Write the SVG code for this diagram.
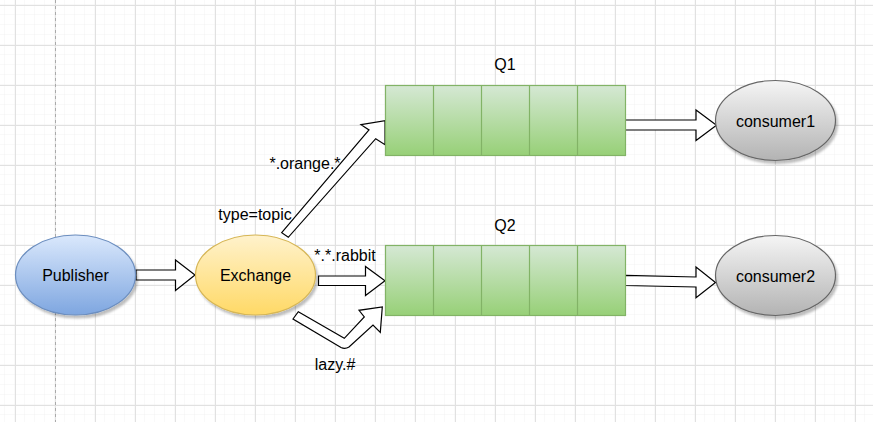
<svg xmlns="http://www.w3.org/2000/svg" width="873" height="422" viewBox="0 0 873 422">
  <defs>
    <pattern id="minor" x="5" y="5" width="10" height="10" patternUnits="userSpaceOnUse">
      <path d="M10 0 V10 M0 10 H10" fill="none" stroke="#f2f2f2" stroke-width="1"/>
    </pattern>
    <pattern id="major" x="15" y="5" width="40" height="40" patternUnits="userSpaceOnUse">
      <path d="M0.5 0 V40 M0 0.5 H40" fill="none" stroke="#e1e1e1" stroke-width="1"/>
    </pattern>
    <linearGradient id="gBlue" x1="0" y1="0" x2="0" y2="1">
      <stop offset="0" stop-color="#dae8fc"/>
      <stop offset="1" stop-color="#7ea6e0"/>
    </linearGradient>
    <linearGradient id="gYellow" x1="0" y1="0" x2="0" y2="1">
      <stop offset="0" stop-color="#fff2cc"/>
      <stop offset="1" stop-color="#ffd966"/>
    </linearGradient>
    <linearGradient id="gGray" x1="0" y1="0" x2="0" y2="1">
      <stop offset="0" stop-color="#f5f5f5"/>
      <stop offset="1" stop-color="#b3b3b3"/>
    </linearGradient>
    <linearGradient id="gGreen" x1="0" y1="0" x2="0" y2="1">
      <stop offset="0" stop-color="#d5e8d4"/>
      <stop offset="1" stop-color="#97d077"/>
    </linearGradient>
    <filter id="shadow" x="-20%" y="-20%" width="150%" height="150%">
      <feDropShadow dx="2" dy="3" stdDeviation="1.2" flood-color="#000" flood-opacity="0.25"/>
    </filter>
  </defs>
  <style>
    text { font-family: "Liberation Sans", Arial, Helvetica, sans-serif; font-size: 16px; fill: #000; }
    .c { text-anchor: middle; }
    .arrow { fill: #ffffff; stroke: #000000; stroke-width: 1.2; stroke-linejoin: miter; }
    .q { fill: url(#gGreen); stroke: #82b366; stroke-width: 1.2; }
    .div { stroke: #82b366; stroke-width: 1.2; }
  </style>

  <rect width="873" height="422" fill="#ffffff"/>
  <rect width="873" height="422" fill="url(#minor)"/>
  <rect width="873" height="422" fill="url(#major)"/>
  <line x1="55.5" y1="0" x2="55.5" y2="422" stroke="#aaaaaa" stroke-width="1" stroke-dasharray="3,3"/>

  <g id="connectors">
    <polygon class="arrow" points="136,270 175.5,270 175.5,260 195,275 175.5,290.5 175.5,280 136,280"/>
    <polygon class="arrow" points="318.5,276 365.5,276 365.5,266.5 385,280.7 365.5,295.5 365.5,285.5 318.5,285.5"/>
    <polygon class="arrow" points="281.7,232.7 369,130 361,124.7 385,120.7 385,144.7 375.7,138.7 288.3,237.3"/>
    <path class="arrow" stroke-linejoin="round" d="M298.3,311.7 L344.3,338.3 L364.3,317 L359,310.3 L382.3,307 L380.3,332.3 L373,325 L349,347 Q345,349.5 341,347.5 L293,319 Z"/>
    <polygon class="arrow" points="625,120 696,120 696,110 716.5,125.3 696,140.5 696,130 625,130"/>
    <polygon class="arrow" points="625,275.3 696,277 696,267 715.5,282.5 696,297.7 696,287 625,285.5"/>
    <text x="305" y="169" class="c">*.orange.*</text>
    <text x="255" y="220" class="c">type=topic</text>
    <text x="345" y="261" class="c">*.*.rabbit</text>
    <text x="335" y="370" class="c">lazy.#</text>
  </g>

  <g id="publisher">
    <ellipse cx="75.5" cy="275" rx="60" ry="40" fill="url(#gBlue)" stroke="#6c8ebf" stroke-width="1.2" filter="url(#shadow)"/>
    <text x="75.5" y="281" class="c">Publisher</text>
  </g>

  <g id="exchange">
    <ellipse cx="255.5" cy="275" rx="60" ry="40" fill="url(#gYellow)" stroke="#d6b656" stroke-width="1.2" filter="url(#shadow)"/>
    <text x="255.5" y="281" class="c">Exchange</text>
  </g>

  <g id="q1">
    <text x="505" y="70" class="c">Q1</text>
    <rect class="q" x="385.5" y="85.5" width="240" height="70"/>
    <line class="div" x1="433.5" y1="85.5" x2="433.5" y2="155.5"/>
    <line class="div" x1="481.5" y1="85.5" x2="481.5" y2="155.5"/>
    <line class="div" x1="529.5" y1="85.5" x2="529.5" y2="155.5"/>
    <line class="div" x1="577.5" y1="85.5" x2="577.5" y2="155.5"/>
  </g>

  <g id="q2">
    <text x="505" y="231" class="c">Q2</text>
    <rect class="q" x="385.5" y="245.5" width="240" height="70"/>
    <line class="div" x1="433.5" y1="245.5" x2="433.5" y2="315.5"/>
    <line class="div" x1="481.5" y1="245.5" x2="481.5" y2="315.5"/>
    <line class="div" x1="529.5" y1="245.5" x2="529.5" y2="315.5"/>
    <line class="div" x1="577.5" y1="245.5" x2="577.5" y2="315.5"/>
  </g>

  <g id="consumer1">
    <ellipse cx="775.5" cy="120.5" rx="60" ry="40" fill="url(#gGray)" stroke="#666666" stroke-width="1.2" filter="url(#shadow)"/>
    <text x="775.5" y="126.5" class="c">consumer1</text>
  </g>

  <g id="consumer2">
    <ellipse cx="775.5" cy="275.5" rx="60" ry="40" fill="url(#gGray)" stroke="#666666" stroke-width="1.2" filter="url(#shadow)"/>
    <text x="775.5" y="281.5" class="c">consumer2</text>
  </g>
</svg>
